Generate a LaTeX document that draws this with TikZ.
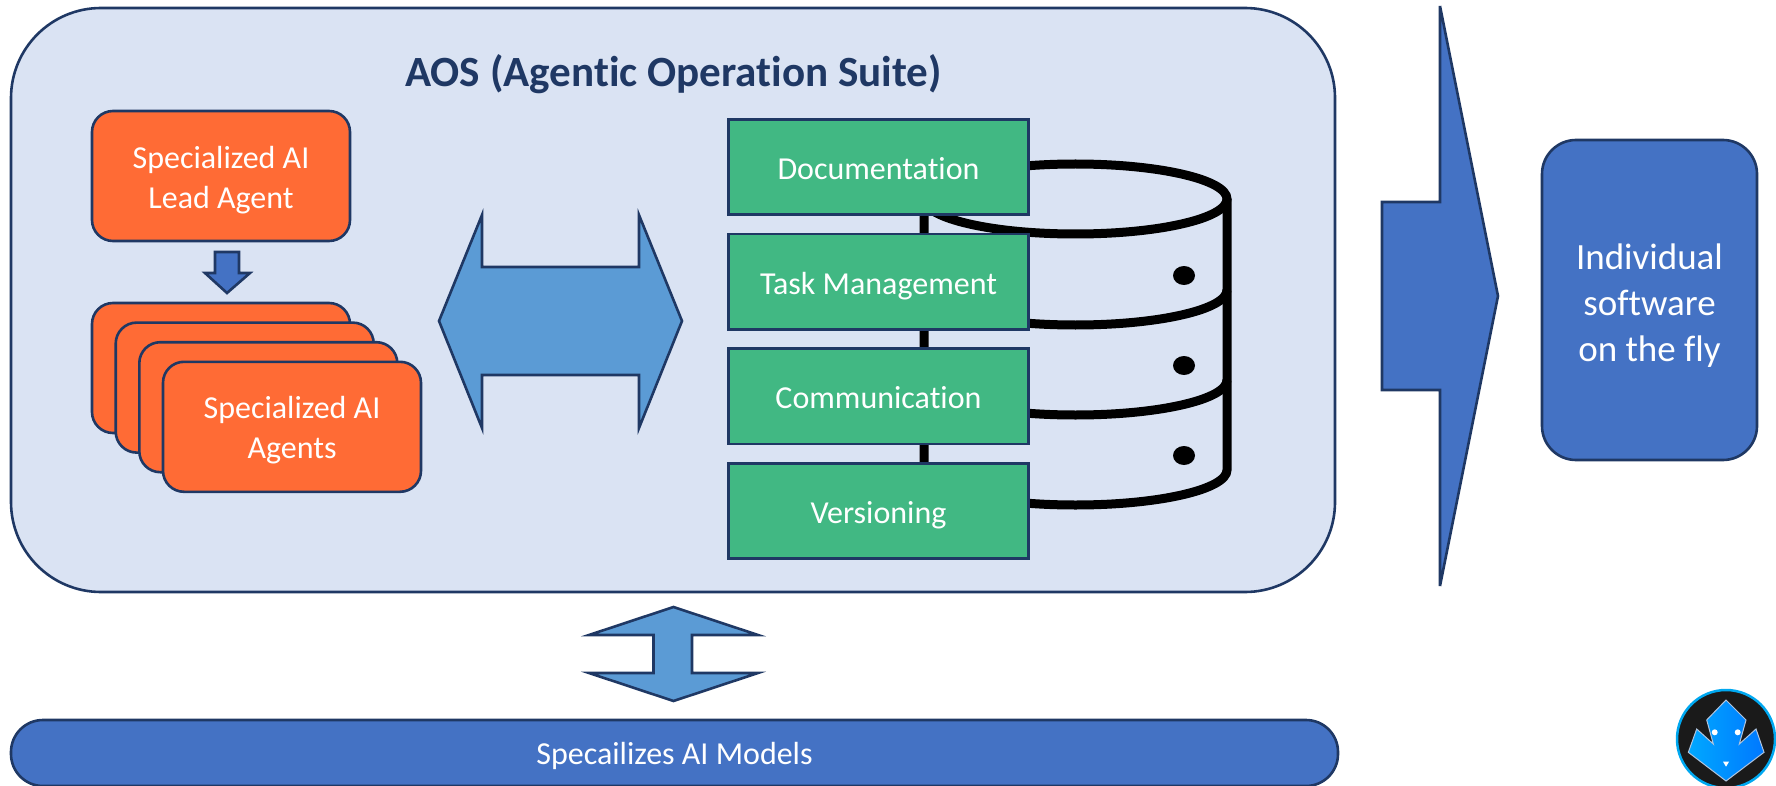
\documentclass[tikz,border=0pt]{standalone}
\usepackage{fontspec}
\setmainfont[Ligatures=NoCommon]{Carlito}
\definecolor{edgeblue}{HTML}{1F3864}
\definecolor{suitebg}{HTML}{DAE3F3}
\definecolor{midblue}{HTML}{4472C4}
\definecolor{lightblue}{HTML}{5B9BD5}
\definecolor{agentorange}{HTML}{FF6B35}
\definecolor{toolgreen}{HTML}{41B883}
\definecolor{logoring}{HTML}{00A8F0}
\definecolor{logodark}{HTML}{1A1A1A}
\definecolor{logoa}{HTML}{00A8FF}
\definecolor{logob}{HTML}{0078FF}
\definecolor{logoedge}{HTML}{B0C4DE}
\newcommand{\topgap}[1]{\rule{0pt}{#1}}
\tikzset{
  x=1pt,y=-1pt,
  panel/.style={draw=edgeblue,line width=2.6pt,inner sep=0pt,outer sep=0pt,text=white,align=center},
  agentbox/.style={panel,fill=agentorange,rounded corners=21pt,minimum width=258pt,minimum height=130pt,font=\fontsize{32}{40}\selectfont},
  toolbox/.style={panel,fill=toolgreen,minimum width=300pt,minimum height=95.5pt,text height=25pt,text depth=0pt,font=\fontsize{32}{40}\selectfont},
  arrowshape/.style={draw=edgeblue,line width=2.6pt,line join=miter},
  dbline/.style={draw=black,line width=9pt},
}
\begin{document}
\begin{tikzpicture}
\useasboundingbox (0,0) rectangle (1776,786);
\clip (0,0) rectangle (1776,786);
% suite panel
\node[panel,fill=suitebg,rounded corners=90pt,minimum width=1324pt,minimum height=584pt] (suite) at (673,300) {};
\node[text=edgeblue,inner sep=0pt,font=\fontsize{43.1}{50}\selectfont\bfseries] (title) at (673.5,74) {AOS (Agentic Operation Suite)};
% lead + agents
\node[agentbox] (lead) at (221,176) {\topgap{30pt}Specialized AI\\Lead Agent};
\node[agentbox] (ag1) at (221,368) {};
\node[agentbox] (ag2) at (244.7,387.6) {};
\node[agentbox] (ag3) at (268.3,407.2) {};
\node[agentbox] (ag4) at (292,426.8) {\topgap{28pt}Specialized AI\\Agents};
% small arrow
\draw[arrowshape,fill=midblue] (215,252) -- (239,252) -- (239,273) -- (250,273) -- (227,293) -- (205,273) -- (215,273) -- cycle;
% big double arrow
\draw[arrowshape,fill=lightblue] (439,321) -- (482,215) -- (482,267) -- (639,267) -- (639,215) -- (682,321) -- (639,428) -- (639,375) -- (482,375) -- (482,428) -- cycle;
% database
\draw[dbline] (1075.5,199) ellipse [x radius=151.5,y radius=35];
\draw[dbline] (924,199) -- (924,470) arc [start angle=180,end angle=0,x radius=151.5,y radius=35] -- (1227,199);
\draw[dbline] (924,290) arc [start angle=180,end angle=0,x radius=151.5,y radius=35];
\draw[dbline] (924,380) arc [start angle=180,end angle=0,x radius=151.5,y radius=35];
\fill[black] (1184,275.5) ellipse [x radius=11,y radius=9.5];
\fill[black] (1184,365.5) ellipse [x radius=11,y radius=9.5];
\fill[black] (1184,455.5) ellipse [x radius=11,y radius=9.5];
% tool boxes
\node[toolbox] (doc) at (878.5,167) {Documentation};
\node[toolbox] (task) at (878.5,281.7) {Task Management};
\node[toolbox] (comm) at (878.5,396.3) {Communication};
\node[toolbox] (vers) at (878.5,511) {Versioning};
% output arrow and box
\draw[arrowshape,fill=midblue] (1382,202) -- (1440,202) -- (1440,6) -- (1498,296) -- (1440,586) -- (1440,390) -- (1382,390) -- cycle;
\node[panel,fill=midblue,rounded corners=34pt,minimum width=215pt,minimum height=320pt,font=\fontsize{37}{46}\selectfont] (soft) at (1649.5,300) {\topgap{36pt}Individual\\software\\on the fly};
% vertical double arrow
\draw[arrowshape,fill=lightblue] (673.5,607) -- (758,635) -- (692,635) -- (692,673) -- (758,673) -- (673.5,701) -- (589,673) -- (653.5,673) -- (653.5,635) -- (589,635) -- cycle;
% models bar
\node[panel,fill=midblue,rounded corners=32pt,minimum width=1327pt,minimum height=66pt,text height=23pt,text depth=0pt,font=\fontsize{32}{38}\selectfont] (models) at (674.5,753) {Specailizes AI Models};
% logo
\fill[logodark] (1726,739) circle (49);
\draw[logoring,line width=2.5pt] (1726,739) circle (49);
\shade[left color=logoa,right color=logob,draw=logoedge,line width=1pt]
  (1726,700) -- (1746,720) -- (1739.3,744) -- (1756,729) -- (1764,752.3) -- (1726,781) -- (1688.3,752.3) -- (1696.7,729) -- (1713.3,744) -- (1706.7,720) -- cycle;
\fill[white] (1714.7,732.3) circle (3);
\fill[white] (1737.7,732.3) circle (3);
\fill[white] (1723,761.7) -- (1729,761.7) -- (1726,766.7) -- cycle;
\end{tikzpicture}
\end{document}
